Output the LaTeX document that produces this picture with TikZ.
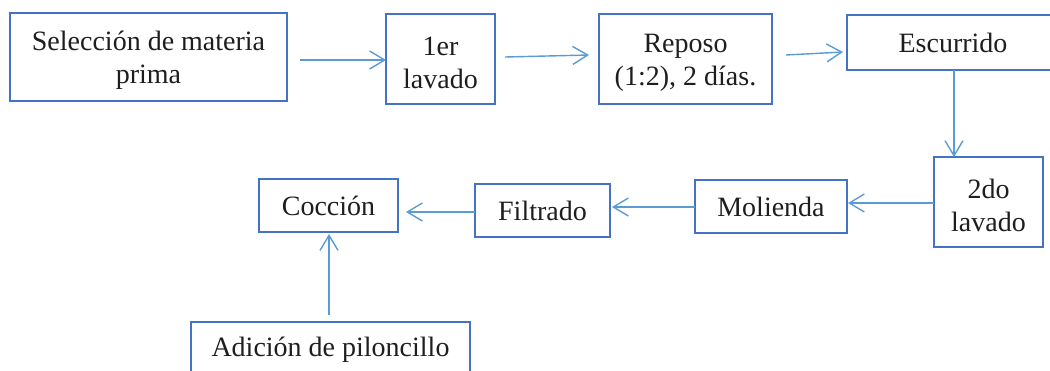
\documentclass[tikz,border=0pt]{standalone}
\usepackage{fontspec}
\setmainfont{Liberation Serif}
\usetikzlibrary{arrows.meta}
\definecolor{boxblue}{RGB}{68,114,196}
\definecolor{arrowblue}{RGB}{91,155,213}
\definecolor{ink}{RGB}{30,30,30}
% strut that lowers a two-line label a little inside its box
\newcommand{\lowerstrut}{\rule{0pt}{26pt}}
\tikzset{
  stepbox/.style={draw=boxblue, line width=2.4pt, inner sep=0pt, outer sep=0pt,
    align=center, text=ink, font=\fontsize{28}{33}\selectfont},
  arr/.style={draw=arrowblue, line width=1.4pt,
    -{Straight Barb[length=15pt,width=18pt,line width=1.4pt]}}
}
\begin{document}
\begin{tikzpicture}[x=1pt,y=-1pt]
\useasboundingbox (0,0) rectangle (1050,370);
\clip (0,0) rectangle (1050,370);
% process steps, top row
\node[stepbox, minimum width=277pt, minimum height=88pt] (sel) at (148.5,57) {\lowerstrut Selección de materia\\prima};
\node[stepbox, minimum width=109pt, minimum height=90pt] (lav1) at (440.5,59) {\lowerstrut 1er\\lavado};
\node[stepbox, minimum width=173pt, minimum height=90pt] (rep) at (685.5,59) {\lowerstrut Reposo\\(1:2), 2 días.};
\node[stepbox, minimum width=212pt, minimum height=55pt] (esc) at (953,42.5) {Escurrido};
% process steps, bottom row
\node[stepbox, minimum width=109pt, minimum height=90pt] (lav2) at (988.5,202) {\lowerstrut 2do\\lavado};
\node[stepbox, minimum width=152pt, minimum height=53pt] (mol) at (771,206.5) {Molienda};
\node[stepbox, minimum width=135pt, minimum height=53pt] (fil) at (542.5,210.5) {Filtrado};
\node[stepbox, minimum width=139pt, minimum height=53pt] (coc) at (328.5,205.5) {Cocción};
\node[stepbox, minimum width=279pt, minimum height=55pt] (adi) at (330.5,349.5) {Adición de piloncillo};
% flow arrows
\draw[arr] ([xshift=13pt,yshift=-3pt]sel.east) -- ([yshift=-1pt]lav1.west);
\draw[arr] ([xshift=10pt,yshift=2pt]lav1.east) -- ([xshift=-10pt,yshift=4pt]rep.west);
\draw[arr] ([xshift=14pt,yshift=4pt]rep.east) -- ([xshift=-4pt,yshift=-9.5pt]esc.west);
\draw[arr] ([xshift=1pt]esc.south) -- ([xshift=1pt]esc.south |- lav2.north);
\draw[arr] ([yshift=-1pt]lav2.west) -- ([xshift=1pt,yshift=3.5pt]mol.east);
\draw[arr] ([yshift=-0.5pt]mol.west) -- ([xshift=2pt,yshift=3.5pt]fil.east);
\draw[arr] ([yshift=-1.5pt]fil.west) -- ([xshift=8pt,yshift=-6.5pt]coc.east);
\draw[arr] ([xshift=-1.5pt,yshift=7pt]adi.north) -- ([xshift=0.5pt,yshift=-2pt]coc.south);
\end{tikzpicture}
\end{document}
